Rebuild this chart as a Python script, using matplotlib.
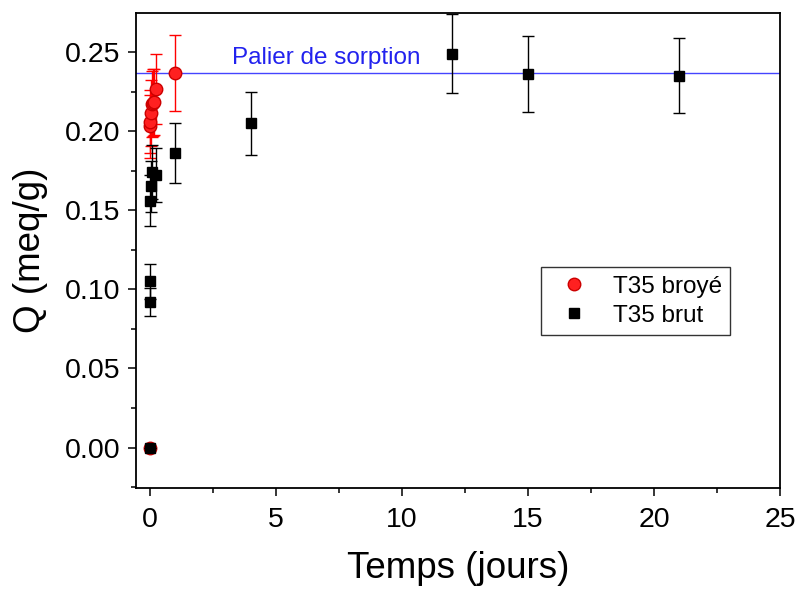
import matplotlib
matplotlib.use("Agg")
import matplotlib.pyplot as plt
from matplotlib.lines import Line2D
from matplotlib.ticker import MultipleLocator

plt.rcParams.update({
    "font.family": ["Liberation Sans", "DejaVu Sans"],
    "font.size": 13,
})

# T35 broyé (ground)
broye_t = [0.0, 0.01, 0.02, 0.04, 0.08, 0.125, 0.17, 0.25, 1.0]
broye_q = [0.000, 0.203, 0.206, 0.2115, 0.217, 0.218, 0.2185, 0.2265, 0.237]
broye_err = [0.0, 0.020, 0.020, 0.021, 0.021, 0.021, 0.021, 0.022, 0.024]

# T35 brut (raw)
brut_t = [0.0, 0.003, 0.007, 0.02, 0.04, 0.08, 0.25, 1.0, 4.0, 12.0, 15.0, 21.0]
brut_q = [0.000, 0.092, 0.105, 0.156, 0.165, 0.174, 0.172, 0.186, 0.205, 0.249, 0.236, 0.235]
brut_err = [0.0, 0.009, 0.011, 0.016, 0.016, 0.017, 0.017, 0.019, 0.020, 0.025, 0.024, 0.0235]

palier = 0.237

fig = plt.figure(figsize=(7.98, 5.89), dpi=100)
ax = fig.add_axes([136 / 798, 1 - 488 / 589, 644 / 798, 475 / 589])

ax.axhline(palier, color="#4444ff", lw=1, zorder=1)
ax.text(3.25, 0.2395, "Palier de sorption", color="#2222ee", fontsize=17.5,
        va="bottom", ha="left")

ax.errorbar(broye_t, broye_q, yerr=broye_err, fmt="o", color="red",
            mfc="#ff2020", mec="#cc0000", ms=9, ecolor="red", elinewidth=1,
            capsize=4, capthick=1, zorder=3)
ax.errorbar(brut_t, brut_q, yerr=brut_err, fmt="s", color="black", ms=7.5,
            ecolor="black", elinewidth=1, capsize=4, capthick=1, zorder=4)

ax.set_xlim(-0.55, 25)
ax.set_ylim(-0.0255, 0.2746)
ax.xaxis.set_major_locator(MultipleLocator(5))
ax.xaxis.set_minor_locator(MultipleLocator(2.5))
ax.yaxis.set_major_locator(MultipleLocator(0.05))
ax.yaxis.set_minor_locator(MultipleLocator(0.025))
ax.yaxis.set_major_formatter(plt.FormatStrFormatter("%.2f"))
ax.tick_params(which="major", length=6, width=1.1, labelsize=20.5, pad=5)
ax.tick_params(axis="x", which="major", pad=8)
ax.tick_params(which="minor", length=3.5, width=1.1)
for s in ax.spines.values():
    s.set_linewidth(1.3)

ax.set_xlabel("Temps (jours)", fontsize=26.5, labelpad=13)
ax.set_ylabel("Q (meq/g)", fontsize=26.5, labelpad=12)

handles = [
    Line2D([], [], ls="none", marker="o", ms=9, mfc="#ff2020", mec="#cc0000"),
    Line2D([], [], ls="none", marker="s", ms=7.5, color="black"),
]
leg = ax.legend(handles, ["T35 broyé", "T35 brut"], loc="upper left",
                bbox_to_anchor=(405 / 644, 221 / 475), fontsize=17.5,
                frameon=True, fancybox=False, edgecolor="black",
                handlelength=2.0, borderpad=0.35, labelspacing=0.3,
                handletextpad=0.6, borderaxespad=0)
leg.get_frame().set_linewidth(1)

fig.savefig("out.png", dpi=100)
